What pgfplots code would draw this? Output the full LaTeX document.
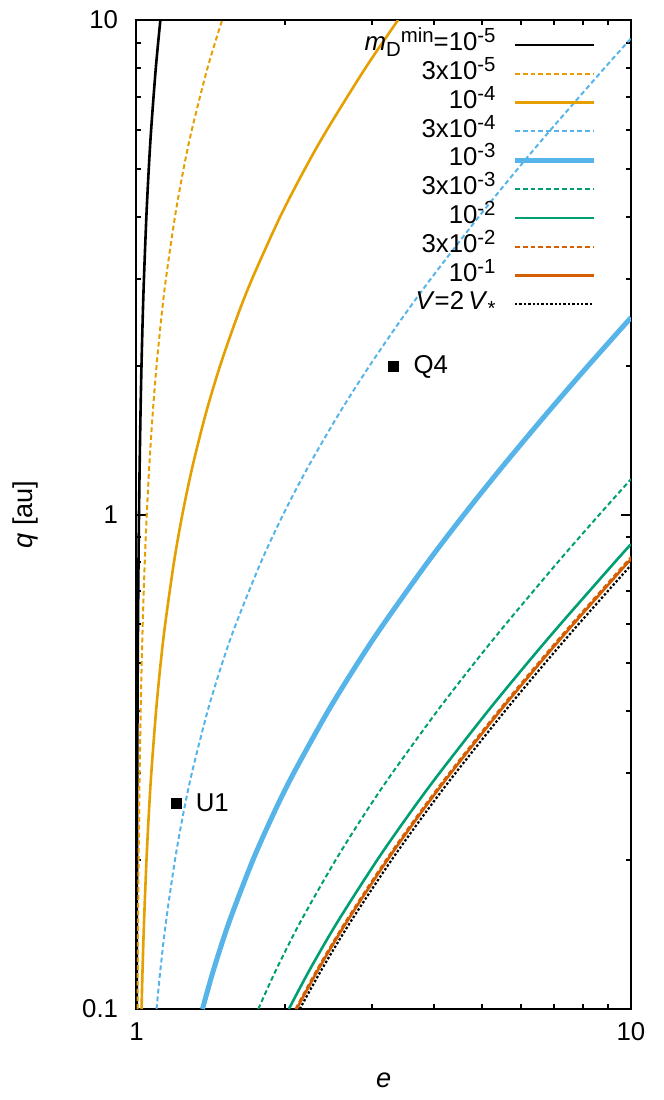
\documentclass[border=0pt]{standalone}
\usepackage{fontspec}
\setmainfont{Liberation Sans}
\usepackage{pgfplots}
\pgfplotsset{compat=1.18}
\definecolor{cOr}{HTML}{E69F00}
\definecolor{cBl}{HTML}{56B4E9}
\definecolor{cGr}{HTML}{009E73}
\definecolor{cVe}{HTML}{D55E00}
\newcommand{\up}[1]{\raisebox{4pt}{\fontsize{10.2}{10}\selectfont #1}}
\newcommand{\dn}[1]{\raisebox{-3pt}{\fontsize{10.2}{10}\selectfont #1}}
\begin{document}
\begin{tikzpicture}[font=\fontsize{12.9}{15}\selectfont]
\path[use as bounding box] (-68.25pt,-45.5pt) rectangle (263.75pt,504.5pt);
\begin{axis}[
 at={(0pt,0pt)}, anchor=south west,
 scale only axis, width=247.25pt, height=494.5pt,
 xmode=log, ymode=log,
 xmin=1, xmax=10, ymin=0.1, ymax=10,
 xtick={1,10}, xticklabels={1,10},
 ytick={0.1,1,10}, yticklabels={0.1,1,10},
 minor xtick={2,3,4,5,6,7,8,9},
 minor ytick={0.2,0.3,0.4,0.5,0.6,0.7,0.8,0.9,2,3,4,5,6,7,8,9},
 tick align=inside,
 major tick length=5pt, minor tick length=2.5pt,
 every tick/.style={black, line width=1pt},
 axis line style={line width=1pt},
 /pgf/number format/assume math mode=true,
 tick label style={font=\fontsize{12.9}{15}\selectfont},
 label style={font=\fontsize{13.6}{16}\selectfont},
 xticklabel style={anchor=north, inner sep=0pt, yshift=-6.5pt},
 yticklabel style={anchor=east, inner sep=0pt, xshift=-9pt},
 xlabel={\textit{e}}, ylabel={\textit{q} [au]},
 xlabel style={at={(axis description cs:0.5,0)}, anchor=center, yshift=-35.5pt},
 ylabel style={at={(axis description cs:0,0.5)}, anchor=center, yshift=55.5pt},
 legend style={font=\fontsize{12.9}{15}\selectfont, at={(1,1)}, anchor=north east, xshift=-17.2pt, yshift=-5.3pt, draw=none, fill=none, inner sep=0pt, outer sep=0pt, row sep=0pt, column sep=8.5pt, nodes={inner sep=0pt, text height=10pt, text depth=4.4pt}},
 legend plot pos=right,
 legend cell align=right,
 legend image code/.code={\draw[#1] (0pt,0pt) -- (39.5pt,0pt);},
 every node near coord/.append style={font=\fontsize{12.9}{15}\selectfont, anchor=west, inner sep=0pt, xshift=9.7pt, black},
]
% m=1e-5
\addplot[black, line width=1.3pt, smooth] coordinates {(1.001176,0.1)(1.001412,0.12)(1.001765,0.15)(1.002353,0.2)(1.002941,0.25)(1.003529,0.3)(1.004706,0.4)(1.005882,0.5)(1.007059,0.6)(1.009412,0.8)(1.011765,1)(1.014706,1.25)(1.018824,1.6)(1.023529,2)(1.029412,2.5)(1.035294,3)(1.047059,4)(1.058824,5)(1.070588,6)(1.094118,8)(1.117647,10)};
\addlegendentry{\textit{m}\dn{D}\up{min}=10\up{-5}}
% 3e-5
\addplot[cOr, line width=1pt, dash pattern=on 2.4pt off 1.5pt, smooth] coordinates {(1.004902,0.1)(1.005882,0.12)(1.007353,0.15)(1.009804,0.2)(1.012255,0.25)(1.014706,0.3)(1.019608,0.4)(1.024510,0.5)(1.029412,0.6)(1.039216,0.8)(1.049020,1)(1.061275,1.25)(1.078431,1.6)(1.098039,2)(1.122549,2.5)(1.147059,3)(1.196078,4)(1.245098,5)(1.294118,6)(1.392157,8)(1.490196,10)};
\addlegendentry{3x10\up{-5}}
% 1e-4
\addplot[cOr, line width=1.3pt, smooth] coordinates {(1.023810,0.1)(1.028571,0.12)(1.035714,0.15)(1.047619,0.2)(1.059524,0.25)(1.071429,0.3)(1.095238,0.4)(1.119048,0.5)(1.142857,0.6)(1.190476,0.8)(1.238095,1)(1.297619,1.25)(1.380952,1.6)(1.476190,2)(1.595238,2.5)(1.714286,3)(1.952381,4)(2.190476,5)(2.428571,6)(2.904762,8)(3.380952,10)};
\addlegendentry{10\up{-4}}
% 3e-4
\addplot[cBl, line width=1pt, dash pattern=on 2.4pt off 1.5pt, smooth] coordinates {(1.098039,0.1)(1.117647,0.12)(1.147059,0.15)(1.196078,0.2)(1.245098,0.25)(1.294118,0.3)(1.392157,0.4)(1.490196,0.5)(1.588235,0.6)(1.784314,0.8)(1.980392,1)(2.225490,1.25)(2.568627,1.6)(2.960784,2)(3.450980,2.5)(3.941176,3)(4.921569,4)(5.901961,5)(6.882353,6)(8.843137,8)(10,9.18)};
\addlegendentry{3x10\up{-4}}
% 1e-3
\addplot[cBl, line width=2.5pt, smooth] coordinates {(1.359712,0.1)(1.431655,0.12)(1.539568,0.15)(1.719424,0.2)(1.899281,0.25)(2.079137,0.3)(2.438849,0.4)(2.798561,0.5)(3.158273,0.6)(3.877698,0.8)(4.597122,1)(5.496403,1.25)(6.755396,1.6)(8.194245,2)(10,2.502)};
\addlegendentry{10\up{-3}}
% 3e-3
\addplot[cGr, line width=1pt, dash pattern=on 2.4pt off 1.5pt, smooth] coordinates {(1.763359,0.1)(1.916031,0.12)(2.145038,0.15)(2.526718,0.2)(2.908397,0.25)(3.290076,0.3)(4.053435,0.4)(4.816794,0.5)(5.580153,0.6)(7.106870,0.8)(8.633588,1)(10,1.179)};
\addlegendentry{3x10\up{-3}}
% 1e-2
\addplot[cGr, line width=1.3pt, smooth] coordinates {(2.033058,0.1)(2.239669,0.12)(2.549587,0.15)(3.066116,0.2)(3.582645,0.25)(4.099174,0.3)(5.132231,0.4)(6.165289,0.5)(7.198347,0.6)(9.264463,0.8)(10,0.8712)};
\addlegendentry{10\up{-2}}
% 3e-2
\addplot[cVe, line width=1pt, dash pattern=on 2.4pt off 1.5pt, smooth] coordinates {(2.096491,0.1)(2.315789,0.12)(2.644737,0.15)(3.192982,0.2)(3.741228,0.25)(4.289474,0.3)(5.385965,0.4)(6.482456,0.5)(7.578947,0.6)(10,0.8208)};
\addlegendentry{3x10\up{-2}}
% 1e-1
\addplot[cVe, line width=1.3pt, smooth] coordinates {(2.107420,0.1)(2.328904,0.12)(2.661130,0.15)(3.214839,0.2)(3.768549,0.25)(4.322259,0.3)(5.429679,0.4)(6.537099,0.5)(7.644518,0.6)(10,0.8127)};
\addlegendentry{10\up{-1}}
% V=2V*
\addplot[black, line width=1.1pt, dash pattern=on 1.2pt off 1pt, smooth] coordinates {(2.138952,0.1)(2.366743,0.12)(2.708428,0.15)(3.277904,0.2)(3.847380,0.25)(4.416856,0.3)(5.555809,0.4)(6.694761,0.5)(7.833713,0.6)(10,0.7902)};
\addlegendentry{\textit{V}=2\,\textit{V}\dn{*}}
% objects
\addplot[only marks, mark=square*, mark size=2.5pt, black, nodes near coords, point meta=explicit symbolic, forget plot] table[meta=lab] {
e q lab
3.315 1.99 Q4
1.202 0.261 U1
};
\end{axis}
\end{tikzpicture}
\end{document}
